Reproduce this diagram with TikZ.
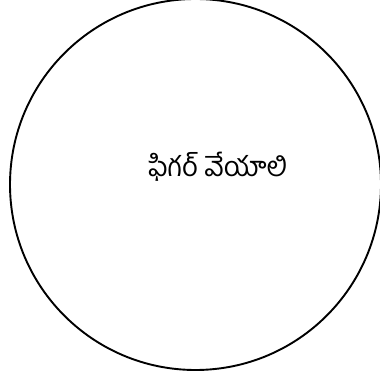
\documentclass[tikz,border=0pt]{standalone}
\usepackage{fontspec}
\newfontfamily\telugufont[Script=Telugu]{Hind Guntur}
\usepackage{tikz}

\begin{document}
\begin{tikzpicture}[x=1pt,y=1pt,every node/.style={font=\telugufont\fontsize{27.5}{31}\selectfont}]
	\useasboundingbox (0,0) rectangle (380,-379);
	\draw[black, line width=1.9pt] (195.5,-184.5) circle (185.5);
	\node (label) at (218,-167) {ఫిగర్ వేయాలి};
\end{tikzpicture}
\end{document}
